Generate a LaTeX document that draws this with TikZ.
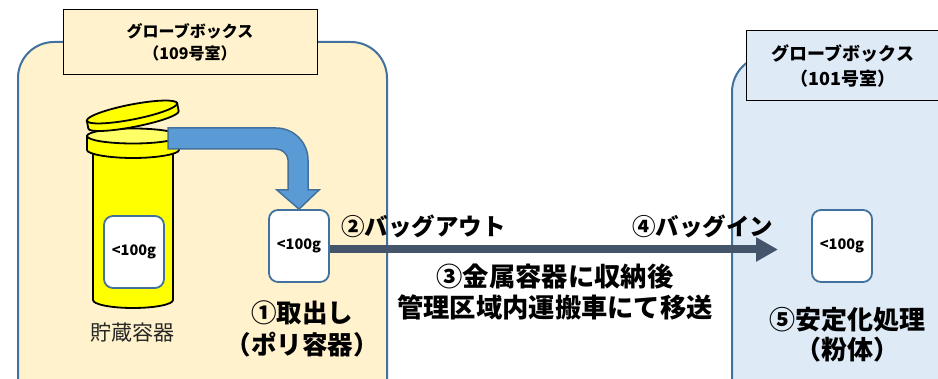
\documentclass[tikz,border=0pt]{standalone}
\usepackage{fontspec}
\setmainfont{Noto Sans CJK JP}
\usetikzlibrary{arrows.meta}
\definecolor{roomY}{HTML}{FFF2CC}
\definecolor{roomB}{HTML}{DEEBF7}
\definecolor{edgeB}{HTML}{41719C}
\definecolor{flowB}{HTML}{5B9BD5}
\definecolor{moveC}{HTML}{44546A}
\definecolor{jarY}{HTML}{FFFF00}
\definecolor{jarTop}{HTML}{FFFF66}
\tikzset{
  room/.style={draw=edgeB, line width=2pt, rounded corners=36pt},
  roomlabel/.style={draw=black, line width=1pt, align=center, font=\bfseries\fontsize{16}{22}\selectfont, inner sep=0pt},
  cont/.style={draw=edgeB, line width=1.8pt, fill=white, rounded corners=9pt,
    minimum width=60pt, minimum height=72pt, inner sep=0pt, font=\bfseries\fontsize{14.5}{16}\selectfont},
  jar/.style={draw=black, line width=1.8pt, fill=jarY},
  step label/.style={font=\bfseries\fontsize{25}{31}\selectfont, align=center, inner sep=0pt},
  move/.style={draw=moveC, line width=8pt, -{Triangle[length=22pt,width=23pt]}},
}
\begin{document}
\begin{tikzpicture}[x=1pt,y=-1pt]
\useasboundingbox (0,0) rectangle (938,379);
\clip (0,0) rectangle (938,379);
\fill[white] (0,0) rectangle (938,379);

% glove box rooms
\draw[room, fill=roomY] (18,42) rectangle (387,430);
\draw[room, fill=roomB] (732,56) rectangle (1000,430);

\node[roomlabel, fill=roomY, minimum width=254pt, minimum height=65pt] (lbl1) at (190,42.5)
  {グローブボックス\\（109号室）};
\node[roomlabel, fill=roomB, minimum width=194pt, minimum height=70pt,
  font=\bfseries\fontsize{18}{25}\selectfont] (lbl2) at (843,66)
  {グローブボックス\\（101号室）};

% storage jar
\draw[jar] (93,150) -- (93,300) .. controls (93,304.4) and (111,308) .. (133,308)
  .. controls (155,308) and (173,304.4) .. (173,300) -- (173,150) -- cycle;
\draw[jar] (87,136) -- (87,150) .. controls (87,154) and (108,158) .. (133,158)
  .. controls (158,158) and (179,154) .. (179,150) -- (179,136) -- cycle;
\draw[jar, fill=jarTop] (133,136) ellipse [x radius=46, y radius=7.5];
\begin{scope}[shift={(132,112)}, rotate=11]
  \draw[jar] (-46,0) -- (-46,8) .. controls (-46,12) and (-25,15) .. (0,15)
    .. controls (25,15) and (46,12) .. (46,8) -- (46,0) -- cycle;
  \draw[jar] (0,0) ellipse [x radius=46, y radius=7.5];
\end{scope}
\node[cont] (c0) at (134,252) {<100g};
\node[font=\fontsize{21}{24}\selectfont, text=black!85] (jarname) at (132,333) {貯蔵容器};

% poly container taken out
\node[cont] (c1) at (299,246) {<100g};

% bent transfer arrow from jar to container
\draw[draw=edgeB, line width=1.5pt, fill=flowB, line join=miter]
  (168,128) -- (276,128) .. controls (293.7,128) and (308,142.3) .. (308,160)
  -- (308,190) -- (319,190) -- (c1.north) -- (277,190) -- (288,190) -- (288,160)
  .. controls (288,154) and (282,149) .. (276,149) -- (168,149) -- cycle;

% container in the receiving box
\node[cont] (c2) at (842,246) {<100g};

% transport arrow
\coordinate (tip) at (778,249.5);
\draw[move] (c1.east |- tip) -- (tip);

% step labels
\node[step label, font=\bfseries\fontsize{23.5}{28}\selectfont, anchor=west] (s2) at (341,226) {②バッグアウト};
\node[step label, font=\bfseries\fontsize{23.5}{28}\selectfont, anchor=west] (s4) at (632,226) {④バッグイン};
\node[step label, font=\bfseries\fontsize{26.3}{31}\selectfont] (s3) at (555,292) {③金属容器に収納後\\管理区域内運搬車にて移送};
\node[step label, font=\bfseries\fontsize{25.5}{32}\selectfont] (s1) at (302,329) {①取出し\\（ポリ容器）};
\node[step label, font=\bfseries\fontsize{26}{30}\selectfont] (s5) at (847,335) {⑤安定化処理\\（粉体）};
\end{tikzpicture}
\end{document}
